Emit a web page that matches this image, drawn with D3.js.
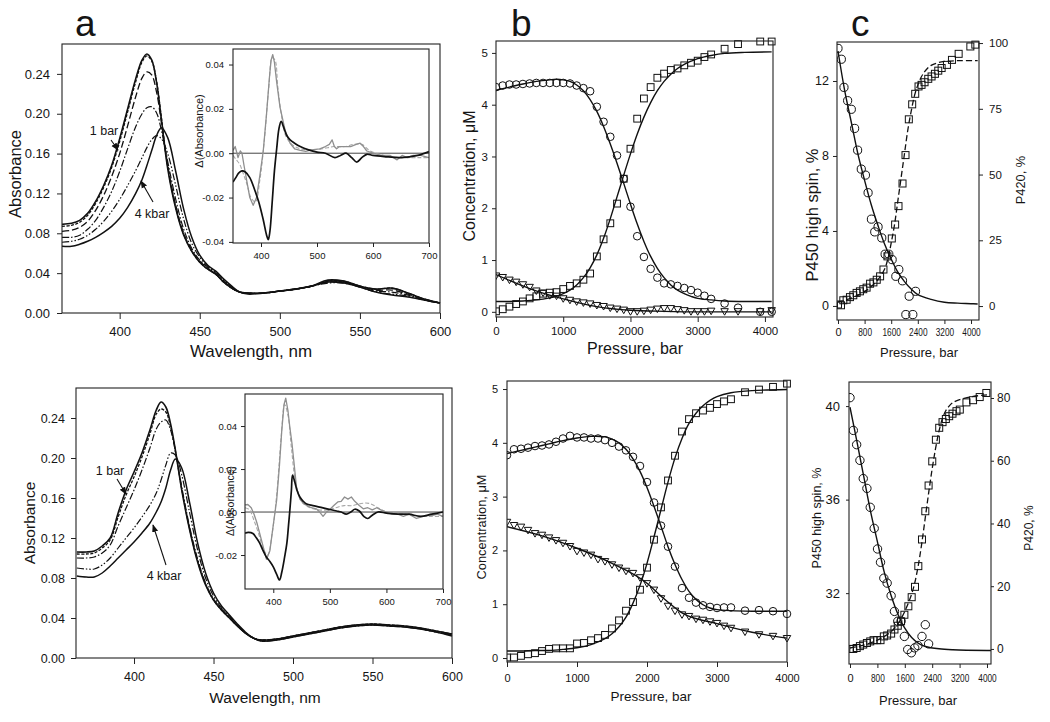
<!DOCTYPE html>
<html><head><meta charset="utf-8">
<script src="https://cdn.jsdelivr.net/npm/d3@7"></script>
<style>
body{margin:0;background:#fff}
svg{display:block}
text{font-family:"Liberation Sans",Arial,sans-serif;fill:#151515}
</style>
</head><body>
<svg id="fig" width="1050" height="722"></svg>
<script>
// ---------------- DATA ----------------
// Panel a (top): absorbance spectra at increasing pressure
const wl = [364,370,375,380,385,390,395,400,405,410,414,417,420,423,426,430,435,440,445,450,455,460,465,470,475,480,490,500,510,520,530,540,550,560,570,580,590,600];
const specTop1 = [.089,.090,.093,.100,.112,.128,.148,.175,.205,.235,.254,.260,.254,.232,.195,.145,.105,.078,.062,.051,.044,.039,.031,.025,.021,.020,.020,.022,.024,.027,.033,.032,.027,.024,.025,.020,.014,.010];
const specTop2 = [.087,.088,.091,.098,.110,.126,.146,.172,.202,.232,.252,.258,.253,.233,.197,.147,.106,.079,.062,.051,.044,.039,.031,.025,.021,.020,.020,.022,.024,.027,.032,.032,.027,.024,.025,.020,.014,.010];
const specTop3 = [.082,.083,.086,.092,.103,.118,.137,.160,.188,.217,.236,.242,.239,.222,.192,.148,.108,.080,.063,.052,.045,.039,.031,.025,.021,.020,.020,.022,.024,.027,.032,.031,.027,.023,.023,.019,.014,.010];
const specTop4 = [.076,.076,.078,.084,.093,.106,.122,.142,.165,.187,.200,.206,.207,.201,.184,.152,.114,.084,.065,.053,.046,.040,.032,.025,.021,.020,.020,.022,.024,.027,.031,.031,.026,.022,.021,.018,.013,.010];
const specTop5 = [.071,.072,.074,.078,.084,.092,.102,.114,.128,.143,.156,.166,.174,.178,.175,.160,.128,.094,.070,.056,.047,.041,.033,.026,.021,.020,.020,.022,.024,.027,.030,.030,.026,.021,.019,.017,.013,.010];
const specTop6 = [.067,.067,.069,.072,.076,.081,.087,.095,.106,.120,.134,.148,.163,.178,.186,.176,.142,.104,.076,.058,.048,.042,.034,.027,.021,.019,.020,.022,.024,.027,.031,.030,.026,.021,.018,.016,.013,.010];
// Panel a (bottom)
const specBot1 = [.106,.106,.107,.112,.120,.145,.168,.186,.205,.228,.248,.256,.251,.234,.208,.168,.128,.096,.073,.058,.048,.040,.032,.025,.020,.018,.019,.022,.025,.028,.031,.033,.034,.033,.032,.030,.027,.024];
const specBot2 = [.104,.104,.105,.110,.118,.141,.163,.181,.201,.224,.244,.249,.246,.231,.207,.169,.129,.097,.074,.058,.048,.040,.032,.025,.020,.018,.019,.022,.025,.028,.031,.033,.034,.033,.032,.030,.027,.024];
const specBot3 = [.100,.100,.101,.105,.113,.132,.150,.168,.188,.210,.229,.236,.238,.228,.207,.171,.131,.099,.075,.059,.049,.041,.032,.025,.020,.018,.019,.022,.025,.028,.031,.033,.033,.033,.031,.029,.026,.023];
const specBot4 = [.090,.089,.089,.093,.100,.110,.120,.130,.141,.153,.165,.178,.193,.205,.203,.183,.145,.108,.080,.062,.050,.042,.033,.025,.020,.017,.018,.021,.024,.027,.030,.032,.033,.032,.031,.029,.026,.023];
const specBot5 = [.082,.081,.081,.085,.092,.100,.108,.116,.125,.135,.146,.156,.170,.188,.199,.190,.155,.115,.085,.065,.052,.043,.034,.026,.020,.017,.018,.021,.024,.027,.030,.032,.033,.032,.031,.029,.026,.022];

// Insets: difference spectra
const insTopBlackW = [350,355,360,366,372,380,388,396,404,410,413,416,420,424,428,432,436,440,446,452,460,470,485,500,515,532,542,552,562,571,580,589,600,620,650,680,700];
const insTopBlackV = [-.013,-.011,-.009,-.008,-.0085,-.011,-.016,-.022,-.030,-.037,-.039,-.035,-.022,-.008,.002,.011,.0144,.012,.008,.006,.0045,.003,.0015,.0005,0,-.002,-.001,0,-.002,-.004,-.002,-.0005,-.001,-.0015,-.002,-.001,.0007];
const insTopGrayW = [350,354,359,363,366,370,375,380,386,392,398,404,410,415,418,421,424,428,434,443,452,460,470,480,490,505,515,522,527,531,535,540,550,560,570,577,583,589,600,615,630,643,652,661,672,685,700];
const insTopGrayV = [.0013,.003,-.002,.001,0,-.006,-.013,-.020,-.0235,-.020,-.010,.001,.018,.034,.042,.0445,.041,.032,.0207,.0104,.0045,.002,.0013,.0008,.0015,.002,.003,.004,.006,.003,.002,.003,.003,.003,.004,.0045,.003,.001,0,-.001,-.001,-.003,-.001,-.002,-.001,-.001,-.002];
const insTopGray2W = [350,356,362,368,375,382,390,398,406,414,420,425,430,436,444,455,470,490,510,530,550,565,580,595,620,650,680,700];
const insTopGray2V = [-.001,-.003,-.005,-.009,-.014,-.020,-.022,-.012,.006,.030,.043,.042,.030,.018,.008,.004,.002,.0015,.002,.003,.003,.004,.004,.001,-.001,-.002,-.002,-.002];
const insBotBlackW = [350,356,364,370,376,382,388,394,400,406,411,415,420,424,427,429,432,434,438,442,447,453,459,470,482,495,512,520,529,537,544,552,560,567,575,585,600,620,640,660,680,700];
const insBotBlackV = [-.0098,-.0095,-.010,-.012,-.0145,-.018,-.021,-.023,-.0255,-.029,-.0316,-.028,-.021,-.0145,-.006,0,.010,.0172,.014,.010,.007,.005,.0037,.003,.0023,.0015,.0005,0,-.001,0,.0013,.0005,-.002,-.003,-.0015,0,-.0005,-.001,-.001,-.002,-.001,0];
const insBotGrayW = [350,355,361,366,371,376,382,388,394,400,406,411,415,419,422,426,429,433,437,441,447,453,460,467,476,482,488,494,500,507,514,520,526,532,538,544,552,559,567,575,583,590,600,610,620,630,640,653,665,675,682,690,700];
const insBotGrayV = [.0033,.0035,.002,-.001,-.005,-.010,-.016,-.022,-.018,-.006,.0056,.022,.038,.050,.053,.047,.040,.032,.022,.0116,.006,.004,.003,.002,.0015,0,-.002,0,.0012,.003,.0047,.005,.007,.006,.007,.005,.003,.0015,.002,.001,.002,.001,0,-.001,-.001,-.002,-.001,-.003,-.002,-.0015,-.0015,-.001,-.002];
const insBotGray2W = [350,358,366,374,382,390,398,406,414,420,426,432,440,450,465,480,495,510,525,540,555,570,585,600,630,660,700];
const insBotGray2V = [.002,.001,-.004,-.010,-.017,-.020,-.010,.008,.035,.050,.045,.030,.013,.005,.002,.001,.001,.002,.003,.003,.004,.004,.002,0,-.001,-.002,-.002];

// Panel b (top): concentrations vs pressure
const bTopP = [0,100,200,300,400,500,600,700,800,900,1000,1100,1200,1300,1400,1500,1600,1700,1800,1900,2000,2100,2200,2300,2400,2500,2600,2700,2800,2900,3000,3100,3200,3400,3600,3930,4100];
const bTopCirc = [4.34,4.37,4.39,4.39,4.40,4.41,4.42,4.42,4.42,4.42,4.42,4.41,4.37,4.32,4.26,3.96,3.67,3.38,3.02,2.57,2.03,1.46,1.06,0.83,0.66,0.55,0.53,0.50,0.46,0.42,0.37,0.31,0.25,0.16,0.08,0.0,0.0];
const bTopSq = [0.01,0.05,0.10,0.15,0.20,0.26,0.30,0.35,0.37,0.38,0.44,0.50,0.55,0.62,0.74,1.07,1.40,1.71,2.09,2.57,3.15,3.73,4.12,4.34,4.52,4.60,4.67,4.70,4.76,4.81,4.85,4.92,4.97,5.08,5.17,5.22,5.22];
const bTopTri = [0.69,0.66,0.61,0.57,0.52,0.47,0.40,0.36,0.31,0.30,0.25,0.22,0.19,0.17,0.15,0.12,0.10,0.07,0.05,0.03,0.0,0.0,0.01,0.03,0.05,0.06,0.06,0.04,0.02,0.0,0.0,0.0,0.01,0.0,0.0,0.0,0.02];
const bTopFitP = [0,200,400,600,800,900,1000,1100,1200,1300,1400,1500,1600,1700,1800,1900,2000,2100,2200,2300,2400,2500,2600,2700,2800,2900,3000,3200,3400,3700,4100];
const bTopFitCirc = [4.28,4.34,4.40,4.45,4.48,4.49,4.48,4.45,4.38,4.27,4.10,3.87,3.58,3.24,2.87,2.48,2.08,1.70,1.36,1.07,0.84,0.66,0.52,0.42,0.35,0.30,0.26,0.23,0.21,0.20,0.20];
const bTopFitSq = [0.20,0.20,0.21,0.23,0.27,0.30,0.35,0.42,0.52,0.66,0.85,1.10,1.42,1.80,2.22,2.64,3.05,3.43,3.76,4.04,4.27,4.45,4.59,4.70,4.78,4.84,4.89,4.95,4.99,5.01,5.02];
const bTopFitTriP = [0,500,1000,1500,2000,2500,3000,4100];
const bTopFitTri = [0.72,0.45,0.25,0.10,0.03,0.01,0.0,0.0];

// Panel b (bottom)
const bBotP = [0,100,200,300,400,500,600,700,800,900,1000,1100,1200,1300,1400,1500,1600,1700,1800,1900,2000,2100,2200,2300,2400,2500,2600,2700,2800,2900,3000,3100,3200,3400,3600,3800,4000];
const bBotCirc = [3.77,3.88,3.89,3.91,3.94,3.95,3.97,4.02,4.08,4.13,4.10,4.10,4.08,4.08,4.05,4.00,3.93,3.86,3.74,3.57,3.27,2.89,2.46,2.07,1.70,1.30,1.12,1.03,0.98,0.95,0.93,0.94,0.94,0.88,0.89,0.87,0.82];
const bBotSq = [0.01,0.01,0.04,0.07,0.09,0.13,0.17,0.18,0.18,0.18,0.27,0.28,0.33,0.37,0.43,0.55,0.70,0.88,1.04,1.27,1.68,2.20,2.80,3.30,3.76,4.21,4.44,4.55,4.60,4.65,4.72,4.77,4.81,4.94,4.99,5.04,5.10];
const bBotTri = [2.52,2.46,2.43,2.37,2.31,2.28,2.23,2.18,2.13,2.07,1.98,1.95,1.91,1.83,1.79,1.73,1.67,1.61,1.57,1.49,1.38,1.26,1.10,0.96,0.87,0.80,0.77,0.72,0.70,0.67,0.64,0.59,0.55,0.48,0.43,0.40,0.36];
const bBotFitP = [0,200,400,600,800,1000,1200,1400,1500,1600,1700,1800,1900,2000,2100,2200,2300,2400,2500,2600,2700,2800,2900,3000,3200,3500,4000];
const bBotFitCirc = [3.80,3.86,3.92,3.98,4.04,4.09,4.12,4.11,4.07,4.00,3.88,3.70,3.47,3.17,2.82,2.45,2.07,1.74,1.46,1.24,1.09,0.99,0.93,0.90,0.88,0.87,0.87];
const bBotFitSq = [0.13,0.13,0.14,0.14,0.16,0.19,0.25,0.36,0.45,0.58,0.76,1.02,1.35,1.76,2.25,2.76,3.27,3.72,4.08,4.36,4.55,4.69,4.79,4.86,4.93,4.97,4.99];
const bBotFitTriP = [0,500,1000,1500,2000,2200,2500,3000,3500,4000];
const bBotFitTri = [2.44,2.27,2.04,1.76,1.39,1.15,0.84,0.64,0.48,0.37];

// Panel c (top): P450 high spin (%) and P420 (%)
const cTopCircP = [0,100,180,290,400,500,590,700,825,905,1005,1105,1205,1316,1417,1528,1628,1739,1829,1940,2040,2140,2250,2332];
const cTopCirc = [13.74,13.16,11.66,10.95,10.49,9.47,8.31,7.30,6.98,6.04,4.63,3.95,4.22,3.63,2.76,2.76,2.47,1.58,1.94,1.34,-0.46,0.52,-0.46,0.78];
const cTopFitCircP = [0,200,400,600,800,1000,1200,1400,1600,1800,2000,2200,2400,2800,3200,3600,4000,4200];
const cTopFitCirc = [13.6,11.5,9.8,8.1,6.7,5.4,4.3,3.3,2.5,1.8,1.3,0.9,0.6,0.35,0.2,0.15,0.12,0.1];
const cTopSqP = [0,90,160,260,360,460,560,660,760,860,965,1065,1165,1266,1367,1487,1618,1718,1819,1940,2030,2130,2231,2322,2422,2512,2603,2714,2814,2915,3015,3116,3276,3427,3628,3980,4130];
const cTopSq = [0.6,0.3,2.2,2.4,3.4,4.1,5.0,5.6,6.4,7.0,8.5,9.0,10.0,11.3,13.9,18.9,25.7,31.0,38.0,46.6,57.4,71.0,76.7,80.7,83.5,84.1,85.1,86.4,87.3,88.3,89.5,90.5,91.7,93.6,95.9,98.7,99.4];
const cTopFitSqP = [0,400,800,1000,1200,1400,1500,1600,1700,1800,1900,2000,2100,2200,2300,2400,2500,2600,2700,2800,3000,3200,3600,4200];
const cTopFitSq = [1.5,3.0,5.5,7.5,10,14,18,24,31,40,49,58,67,74,80,84,87,89,90.5,91.5,92.5,93,93.3,93.3];

// Panel c (bottom)
const cBotCircP = [0,97,194,290,387,494,591,707,804,891,988,1085,1201,1298,1395,1491,1588,1685,1792,1889,1985,2102,2199,2295];
const cBotCirc = [40.36,38.96,38.35,37.68,36.90,36.48,35.67,34.77,33.89,33.32,32.64,32.43,31.89,31.22,30.80,30.80,30.15,29.59,29.45,29.66,29.76,30.15,30.65,29.83];
const cBotFitCircP = [0,200,400,600,800,1000,1200,1400,1600,1800,2000,2200,2600,3000,4000,4120];
const cBotFitCirc = [39.95,38.5,37.0,35.5,34.2,32.9,31.9,31.1,30.5,30.1,29.85,29.72,29.62,29.58,29.55,29.55];
const cBotSqP = [0,97,194,290,387,494,591,688,794,891,988,1085,1201,1298,1395,1491,1588,1704,1801,1898,1995,2102,2199,2295,2402,2508,2605,2702,2799,2896,2993,3109,3206,3400,3593,3787,3981];
const cBotSq = [0,0,0.3,0.9,1.4,1.9,2.4,2.8,2.8,2.8,4.0,4.3,4.9,6.2,7.4,8.8,10.9,13.6,16.5,19.8,26.4,34.9,43.9,52.1,59.8,66.7,70.5,72.3,73.3,74.2,75.0,75.8,76.3,78.6,79.3,80.3,81.6];
const cBotFitSqP = [0,400,800,1000,1200,1400,1600,1800,1900,2000,2100,2200,2300,2400,2500,2600,2700,2800,2900,3000,3200,3600,4000];
const cBotFitSq = [0.3,1.2,2.8,4,5.5,8,12,17.5,21.5,27,34,42,50,57.5,64,69.5,73.5,76,77.5,78.5,79.5,80.5,81];

// Tick values
const aXTicks = [400,450,500,550,600];
const aYTicks = [0,0.04,0.08,0.12,0.16,0.20,0.24];
const insXTicks = [400,500,600,700];
const insTopYTicks = [-0.04,-0.02,0,0.02,0.04];
const insBotYTicks = [-0.02,0,0.02,0.04];
const bXTicks = [0,1000,2000,3000,4000];
const bYTicks = [0,1,2,3,4,5];
const cXTicks = [0,800,1600,2400,3200,4000];
const cTopYTicks = [0,4,8,12];
const cTopY2Ticks = [0,25,50,75,100];
const cBotYTicks = [32,36,40];
const cBotY2Ticks = [0,20,40,60,80];

// ---------------- DRAWING ----------------
const svg = d3.select("#fig");
const defs = svg.append("defs");
defs.append("marker").attr("id","arr").attr("viewBox","0 0 10 10").attr("refX",9).attr("refY",5)
  .attr("markerWidth",7).attr("markerHeight",7).attr("orient","auto-start-reverse")
  .append("path").attr("d","M0,1 L10,5 L0,9 Z").attr("fill","#111");
let clipId = 0;

function panel(o){
  const x = d3.scaleLinear().domain(o.xd).range([o.l,o.r]);
  const y = d3.scaleLinear().domain(o.yd).range([o.b,o.t]);
  const g = svg.append("g");
  g.append("rect").attr("x",o.l).attr("y",o.t).attr("width",o.r-o.l).attr("height",o.b-o.t)
    .attr("fill","#fff").attr("stroke","none");
  const style = (sel, fs, lenFn) => {
    sel.select(".domain").remove();
    sel.selectAll("line").attr("stroke","#222");
    sel.selectAll("text").attr("font-size",fs).attr("fill","#151515")
      .attr("font-family","'Liberation Sans',Arial,sans-serif");
    if (lenFn) sel.selectAll("text").each(function(){ const t=d3.select(this); const L=lenFn(t.text()); if(L) t.attr("textLength",L).attr("lengthAdjust","spacingAndGlyphs"); });
  };
  const gx = g.append("g").attr("transform",`translate(0,${o.b})`)
    .call(d3.axisBottom(x).tickValues(o.xt).tickFormat(o.xf||(d=>d)).tickSize(o.xts).tickSizeOuter(0).tickPadding(o.xp));
  style(gx,o.xfs,o.xlen);
  const gy = g.append("g").attr("transform",`translate(${o.l},0)`)
    .call(d3.axisLeft(y).tickValues(o.yt).tickFormat(o.yf||(d=>d)).tickSize(o.yts).tickSizeOuter(0).tickPadding(o.yp));
  style(gy,o.yfs);
  let y2 = null;
  if (o.y2d){
    y2 = d3.scaleLinear().domain(o.y2d).range([o.b,o.t]);
    const gy2 = g.append("g").attr("transform",`translate(${o.r},0)`)
      .call(d3.axisRight(y2).tickValues(o.y2t).tickSize(o.yts).tickSizeOuter(0).tickPadding(o.y2p));
    style(gy2,o.y2fs);
  }
  const id = "clip"+(clipId++);
  defs.append("clipPath").attr("id",id).append("rect")
    .attr("x",o.l).attr("y",o.t-6).attr("width",o.r-o.l+6).attr("height",o.b-o.t+12);
  const data = g.append("g").attr("clip-path",`url(#${id})`);
  g.append("rect").attr("x",o.l).attr("y",o.t).attr("width",o.r-o.l).attr("height",o.b-o.t)
    .attr("fill","none").attr("stroke","#222").attr("stroke-width",1.1);
  return {x,y,y2,g,data};
}

function curve(p, xs, ys, opt, yscale){
  const ysc = yscale || p.y;
  const pts = xs.map((v,i)=>[v,ys[i]]);
  p.data.append("path").datum(pts)
    .attr("d", d3.line().x(d=>p.x(d[0])).y(d=>ysc(d[1])).curve(opt.curve||d3.curveCatmullRom.alpha(0.5)))
    .attr("fill","none").attr("stroke",opt.color||"#111").attr("stroke-width",opt.w||1.4)
    .attr("stroke-dasharray",opt.dash||null).attr("stroke-linejoin","round");
}

function markers(p, xs, ys, type, size, yscale){
  const ysc = yscale || p.y;
  const s = size;
  const gg = p.data.append("g").attr("fill","none").attr("stroke","#111").attr("stroke-width",1);
  xs.forEach((v,i)=>{
    const cx = p.x(v), cy = ysc(ys[i]);
    if (type==="circle") gg.append("circle").attr("cx",cx).attr("cy",cy).attr("r",s/2);
    else if (type==="square") gg.append("rect").attr("x",cx-s/2).attr("y",cy-s/2).attr("width",s).attr("height",s);
    else gg.append("path").attr("d",`M${cx-s/2},${cy-s*0.42}L${cx+s/2},${cy-s*0.42}L${cx},${cy+s*0.45}Z`);
  });
}

function label(txt, x, y, fs, opts){
  opts = opts||{};
  const t = svg.append("text").attr("x",0).attr("y",0).attr("font-size",fs)
    .attr("text-anchor",opts.anchor||"middle")
    .attr("transform", opts.rot ? `translate(${x},${y}) rotate(-90)` : `translate(${x},${y})`)
    .text(txt);
  if (opts.family) t.style("font-family",opts.family);
  return t;
}
function arrow(x1,y1,x2,y2){
  svg.append("line").attr("x1",x1).attr("y1",y1).attr("x2",x2).attr("y2",y2)
    .attr("stroke","#111").attr("stroke-width",1.1).attr("marker-end","url(#arr)");
}

const f2 = d => d.toFixed(2);
const spectraStyles = [
  {w:1.6},
  {w:1.3, dash:"3,1.5"},
  {w:1.3, dash:"7,3"},
  {w:1.2, dash:"7,2,1.5,2"},
  {w:1.2, dash:"7,2,1.5,2,1.5,2"},
  {w:1.5}
];

// ---- Panel a top ----
const aT = panel({l:62,r:440,t:44,b:313, xd:[364,600], yd:[0,0.27],
  xt:aXTicks, yt:aYTicks, yf:f2, xts:6, yts:5, xp:8, yp:7, xfs:13, yfs:13});
[specTop6,specTop5,specTop4,specTop3,specTop2,specTop1].forEach((s,i)=>curve(aT, wl, s, spectraStyles[5-i]));
// ---- Inset top ----
const iT = panel({l:233,r:429,t:49,b:243, xd:[350,700], yd:[-0.0405,0.047],
  xt:insXTicks, yt:insTopYTicks, yf:f2, xts:4, yts:4, xp:5, yp:5, xfs:9.5, yfs:9.5});
iT.data.append("line").attr("x1",iT.x(350)).attr("x2",iT.x(700)).attr("y1",iT.y(0)).attr("y2",iT.y(0)).attr("stroke","#444").attr("stroke-width",1);
curve(iT, insTopGray2W, insTopGray2V, {color:"#a8a8a8", w:1.1, dash:"4,2"});
curve(iT, insTopGrayW, insTopGrayV, {color:"#8f8f8f", w:1.3, curve:d3.curveLinear});
curve(iT, insTopBlackW, insTopBlackV, {color:"#111", w:1.7});

// ---- Panel a bottom ----
const aB = panel({l:76,r:452,t:388,b:658, xd:[363.5,600], yd:[0,0.27],
  xt:aXTicks, yt:aYTicks, yf:f2, xts:6, yts:5, xp:8, yp:6, xfs:12.5, yfs:12.5});
[specBot5,specBot4,specBot3,specBot2,specBot1].forEach((s,i)=>{
  const st = [spectraStyles[5],spectraStyles[4],spectraStyles[3],spectraStyles[1],spectraStyles[0]][i];
  curve(aB, wl, s, st);
});
// ---- Inset bottom ----
const iB = panel({l:245,r:443,t:394,b:589, xd:[350,700], yd:[-0.0358,0.0549],
  xt:insXTicks, yt:insBotYTicks, yf:f2, xts:4, yts:4, xp:5, yp:4, xfs:9.5, yfs:9.5});
iB.data.append("line").attr("x1",iB.x(350)).attr("x2",iB.x(700)).attr("y1",iB.y(0)).attr("y2",iB.y(0)).attr("stroke","#444").attr("stroke-width",1);
curve(iB, insBotGray2W, insBotGray2V, {color:"#a8a8a8", w:1.1, dash:"4,2"});
curve(iB, insBotGrayW, insBotGrayV, {color:"#8f8f8f", w:1.3, curve:d3.curveLinear});
curve(iB, insBotBlackW, insBotBlackV, {color:"#111", w:1.7});

// ---- Panel b top ----
const bT = panel({l:496,r:773,t:41,b:317, xd:[0,4120], yd:[-0.1,5.23],
  xt:bXTicks, yt:bYTicks, xts:5, yts:4, xp:5, yp:4, xfs:11.5, yfs:11.5});
curve(bT, bTopFitTriP, bTopFitTri, {w:1.3, curve:d3.curveMonotoneX});
curve(bT, bTopFitP, bTopFitCirc, {w:1.4});
curve(bT, bTopFitP, bTopFitSq, {w:1.4});
markers(bT, bTopP, bTopTri, "tri", 7.5);
markers(bT, bTopP, bTopSq, "square", 6.8);
markers(bT, bTopP, bTopCirc, "circle", 7.6);

// ---- Panel b bottom ----
const bB = panel({l:507,r:787,t:381,b:662, xd:[0,4000], yd:[-0.074,5.149],
  xt:bXTicks, yt:bYTicks, xts:5, yts:4, xp:7, yp:5, xfs:11, yfs:11});
curve(bB, bBotFitTriP, bBotFitTri, {w:1.4, curve:d3.curveMonotoneX});
curve(bB, bBotFitP, bBotFitCirc, {w:1.4});
curve(bB, bBotFitP, bBotFitSq, {w:1.4});
markers(bB, bBotP, bBotTri, "tri", 7.5);
markers(bB, bBotP, bBotSq, "square", 6.8);
markers(bB, bBotP, bBotCirc, "circle", 7.6);

// ---- Panel c top ----
const digLen = s => s.length>1 ? s.length*4.6 : null;
const cT = panel({l:837,r:979,t:42,b:320, xd:[-30,4240], yd:[-0.75,14.08], y2d:[-5.3,100.4],
  xt:cXTicks, yt:cTopYTicks, y2t:cTopY2Ticks, xts:4, yts:4, xp:4, yp:4, y2p:6,
  xfs:11, yfs:12.5, y2fs:11.5, xlen:digLen});
curve(cT, cTopFitSqP, cTopFitSq, {w:1.3, dash:"6,3"}, cT.y2);
curve(cT, cTopFitCircP, cTopFitCirc, {w:1.4});
markers(cT, cTopSqP, cTopSq, "square", 7, cT.y2);
markers(cT, cTopCircP, cTopCirc, "circle", 8.2);

// ---- Panel c bottom ----
const cB = panel({l:849,r:991,t:382,b:664, xd:[-29,4117], yd:[28.97,41.03], y2d:[-4.8,85.1],
  xt:cXTicks, yt:cBotYTicks, y2t:cBotY2Ticks, xts:4, yts:3, xp:6, yp:6, y2p:3,
  xfs:11, yfs:13, y2fs:12, xlen:digLen});
curve(cB, cBotFitSqP, cBotFitSq, {w:1.3, dash:"6,3"}, cB.y2);
curve(cB, cBotFitCircP, cBotFitCirc, {w:1.4});
markers(cB, cBotSqP, cBotSq, "square", 7, cB.y2);
markers(cB, cBotCircP, cBotCirc, "circle", 8.4);

// ---------------- TEXT ----------------
const big = "'Liberation Sans',Arial,sans-serif";
label("a", 75, 36, 37, {anchor:"start", family:big});
label("b", 511, 36, 37, {anchor:"start", family:big});
label("c", 851, 36, 37, {anchor:"start", family:big});

label("Absorbance", 21, 174, 16.5, {rot:true});
label("Wavelength, nm", 251, 357, 17);
label("Δ(Absorbance)", 203, 131, 11, {rot:true});
label("1 bar", 104, 135, 12.5);
arrow(111,140,118,150);
label("4 kbar", 152, 218, 12.5);
arrow(153,202,141,181);

label("Absorbance", 35, 523, 15.5, {rot:true});
label("Wavelength, nm", 265, 703, 15.5);
label("Δ(Absorbance)", 234, 501, 10.5, {rot:true});
label("1 bar", 110, 475, 12.5);
arrow(117,479,126,494);
label("4 kbar", 164, 580, 12.5);
arrow(166,565,153,525);

label("Concentration, μM", 475, 176, 16, {rot:true});
label("Pressure, bar", 635, 354, 16);
label("Concentration, μM", 486, 527, 12.8, {rot:true});
label("Pressure, bar", 651, 701, 13.5);

label("P450 high spin, %", 818, 215, 16.5, {rot:true});
label("P420, %", 1025, 180, 12.8, {rot:true});
label("Pressure, bar", 919, 357, 13);
label("P450 high spin, %", 821, 518, 12.5, {rot:true});
label("P420, %", 1033, 528, 12, {rot:true});
label("Pressure, bar", 918, 705, 13);
</script>
</body></html>
